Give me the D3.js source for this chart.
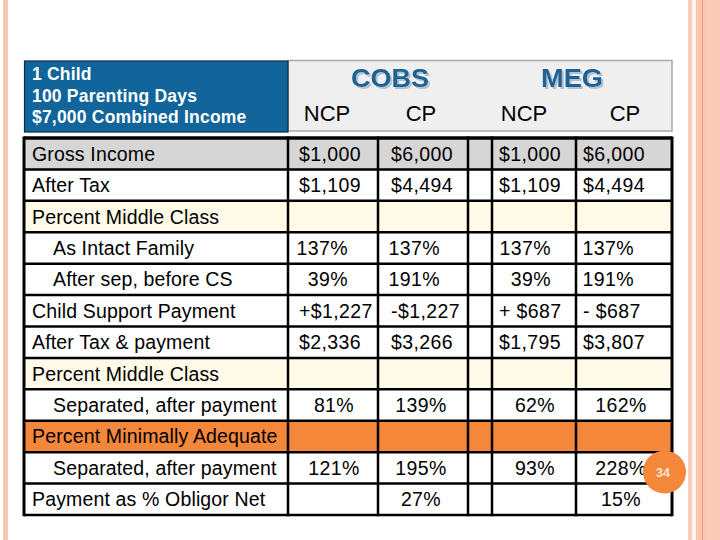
<!DOCTYPE html>
<html>
<head>
<meta charset="utf-8">
<script src="https://cdn.jsdelivr.net/npm/d3@7"></script>
<style>
  html, body { margin: 0; padding: 0; background: #ffffff; }
  svg { display: block; font-family: Arial, "Liberation Sans", sans-serif; }
</style>
</head>
<body>
<svg id="chart" width="720" height="540"></svg>
<script>
// ---------- data ----------
const headerLines = ["1 Child", "100 Parenting Days", "$7,000 Combined Income"];
const groups = ["COBS", "MEG"];
const subHeaders = ["NCP", "CP", "NCP", "CP"];
const rowLabels = [
  "Gross Income", "After Tax", "Percent Middle Class", "As Intact Family",
  "After sep, before CS", "Child Support Payment", "After Tax & payment",
  "Percent Middle Class", "Separated, after payment", "Percent Minimally Adequate",
  "Separated, after payment", "Payment as % Obligor Net"
];
const rowIndent = [0, 0, 0, 1, 1, 0, 0, 0, 1, 0, 1, 0];
const rowKind = ["grey", "white", "cream", "white", "white", "white", "white", "cream", "white", "orange", "white", "white"];
const cobsNCP = ["$1,000", "$1,109", "", "137%", "39%", "+$1,227", "$2,336", "", "81%", "", "121%", ""];
const cobsCP  = ["$6,000", "$4,494", "", "137%", "191%", "-$1,227", "$3,266", "", "139%", "", "195%", "27%"];
const megNCP  = ["$1,000", "$1,109", "", "137%", "39%", "+ $687", "$1,795", "", "62%", "", "93%", ""];
const megCP   = ["$6,000", "$4,494", "", "137%", "191%", "- $687", "$3,807", "", "162%", "", "228%", "15%"];
const slideNumber = "34";

// ---------- layout ----------
const svg = d3.select("#chart");
const defs = svg.append("defs");
const shadow = defs.append("filter").attr("id", "shadow")
  .attr("x", "-10%").attr("y", "-20%").attr("width", "130%").attr("height", "150%");
shadow.append("feDropShadow").attr("dx", 2).attr("dy", 2).attr("stdDeviation", 0.6)
  .attr("flood-color", "#a9bccf").attr("flood-opacity", 0.9);

const colKeys = ["label", "cobsNCP", "cobsCP", "gap", "megNCP", "megCP"];
const colEdges = [24, 288, 378, 468, 492, 576, 672];
const xLeft = d3.scaleOrdinal().domain(colKeys).range(colEdges.slice(0, 6));
const xRight = d3.scaleOrdinal().domain(colKeys).range(colEdges.slice(1));
const y = d3.scaleBand().domain(d3.range(rowLabels.length)).range([138, 515]).padding(0);
const fills = { grey: "#d6d6d6", white: "#ffffff", cream: "#fffbe8", orange: "#f5873a" };
const fontSize = 19.5;

// decorative side stripes
const stripes = [
  [3, 5, "#f8c8b4"],
  [688, 4, "#f9cdbb"], [692, 4, "#fff4ee"], [696, 6, "#fcc5b1"],
  [702, 1.5, "#e99c7e"], [703.5, 4, "#fdc6b2"], [707.5, 12.5, "#fccab6"]
];
svg.selectAll("rect.stripe").data(stripes).join("rect")
  .attr("class", "stripe")
  .attr("x", d => d[0]).attr("y", 0).attr("width", d => d[1]).attr("height", 540)
  .attr("fill", d => d[2]);

// ---------- header ----------
svg.append("rect").attr("x", 288).attr("y", 60.5).attr("width", 384).attr("height", 70.5)
  .attr("fill", "#efefef").attr("stroke", "#a8a8a8").attr("stroke-width", 1.5);
svg.append("rect").attr("x", 24.5).attr("y", 61).attr("width", 263.5).attr("height", 71)
  .attr("fill", "#11659a").attr("stroke", "#0b2c44").attr("stroke-width", 1.2);
svg.selectAll("text.hl").data(headerLines).join("text")
  .attr("class", "hl")
  .attr("x", 32).attr("y", (d, i) => 80 + i * 21.5)
  .attr("fill", "#ffffff").attr("font-weight", "bold").attr("font-size", 17.5)
  .attr("letter-spacing", 0.2)
  .text(d => d);

const groupCenters = [390, 572];
const groupWidths = [78, 62];
svg.selectAll("text.grp").data(groups).join("text")
  .attr("class", "grp")
  .attr("x", (d, i) => groupCenters[i]).attr("y", 87)
  .attr("text-anchor", "middle").attr("font-weight", "bold").attr("font-size", 25)
  .attr("textLength", (d, i) => groupWidths[i]).attr("lengthAdjust", "spacingAndGlyphs")
  .attr("fill", "#1b6292").attr("filter", "url(#shadow)")
  .text(d => d);

const subCenters = [327, 421, 524, 625];
svg.selectAll("text.sub").data(subHeaders).join("text")
  .attr("class", "sub")
  .attr("x", (d, i) => subCenters[i]).attr("y", 121)
  .attr("text-anchor", "middle").attr("font-size", 22).attr("fill", "#000")
  .text(d => d);

// ---------- table cells ----------
const cells = [];
rowLabels.forEach((lab, r) => {
  colKeys.forEach(k => cells.push({ r, k }));
});
svg.selectAll("rect.cell").data(cells).join("rect")
  .attr("class", "cell")
  .attr("x", d => xLeft(d.k)).attr("y", d => y(d.r))
  .attr("width", d => xRight(d.k) - xLeft(d.k)).attr("height", y.bandwidth())
  .attr("fill", d => fills[rowKind[d.r]]);

// grid lines
const hLines = d3.range(rowLabels.length + 1).map(i => i < rowLabels.length ? y(i) : y(rowLabels.length - 1) + y.bandwidth());
svg.selectAll("line.h").data(hLines).join("line")
  .attr("class", "h")
  .attr("x1", colEdges[0]).attr("x2", colEdges[colEdges.length - 1])
  .attr("y1", d => d).attr("y2", d => d)
  .attr("stroke", "#000").attr("stroke-width", (d, i) => (i === 0 ? 3.5 : 2.5));
svg.selectAll("line.v").data(colEdges).join("line")
  .attr("class", "v")
  .attr("x1", d => d).attr("x2", d => d)
  .attr("y1", hLines[0] - 1.5).attr("y2", hLines[hLines.length - 1] + 1.2)
  .attr("stroke", "#000").attr("stroke-width", (d, i) => (i === 0 || i === colEdges.length - 1 ? 3 : 2.5));

// row labels
svg.selectAll("text.rl").data(rowLabels).join("text")
  .attr("class", "rl")
  .attr("x", (d, i) => rowIndent[i] ? 53 : 32)
  .attr("y", (d, i) => y(i) + y.bandwidth() / 2 + 7)
  .attr("font-size", fontSize).attr("fill", "#000").attr("letter-spacing", 0.15)
  .text(d => d);

// values
const valueCols = [
  { k: "cobsNCP", vals: cobsNCP, startPad: 11, endPad: 30, midOff: 1 },
  { k: "cobsCP", vals: cobsCP, startPad: 13, endPad: 28, midOff: -2 },
  { k: "megNCP", vals: megNCP, startPad: 7, endPad: 25, midOff: 1 },
  { k: "megCP", vals: megCP, startPad: 7, endPad: 38, midOff: -3 }
];
valueCols.forEach(c => {
  const items = c.vals.map((v, r) => ({ v, r })).filter(d => d.v !== "");
  svg.selectAll("text.v-" + c.k).data(items).join("text")
    .attr("class", "v-" + c.k)
    .attr("font-size", fontSize).attr("fill", "#000").attr("letter-spacing", 0.4)
    .attr("y", d => y(d.r) + y.bandwidth() / 2 + 7)
    .each(function (d) {
      const t = d3.select(this);
      const L = xLeft(c.k), R = xRight(c.k);
      if (d.r === 3 || d.r === 4) {
        t.attr("text-anchor", "end").attr("x", R - c.endPad);
      } else if (d.r >= 8) {
        t.attr("text-anchor", "middle").attr("x", (L + R) / 2 + c.midOff);
      } else {
        t.attr("text-anchor", "start").attr("x", L + c.startPad);
      }
    })
    .text(d => d.v);
});

// slide number badge
svg.append("circle").attr("cx", 664.5).attr("cy", 472).attr("r", 21.5).attr("fill", "#f5873a");
svg.append("text").attr("x", 663).attr("y", 476.5).attr("text-anchor", "middle")
  .attr("font-weight", "bold").attr("font-size", 12.5).attr("fill", "#fde6d8")
  .text(slideNumber);
</script>
</body>
</html>
